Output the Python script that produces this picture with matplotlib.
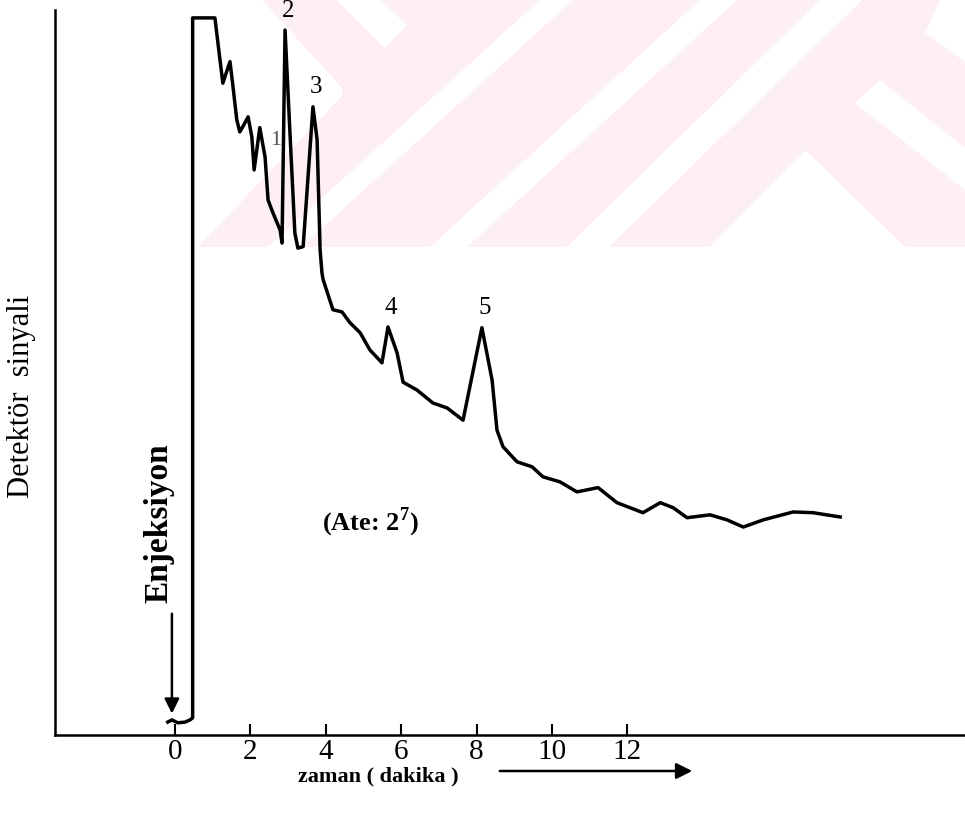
import matplotlib
matplotlib.use("Agg")
import matplotlib.pyplot as plt
from matplotlib.patches import Polygon

plt.rcParams['font.family'] = ['Liberation Serif', 'DejaVu Serif']
plt.rcParams['mathtext.fontset'] = 'custom'
plt.rcParams['mathtext.rm'] = 'Liberation Serif'
plt.rcParams['mathtext.bf'] = 'Liberation Serif:bold'

# chromatogram trace (time in minutes, detector signal in arbitrary units)
time_min = [-0.19, -0.08, 0.08, 0.27, 0.40, 0.47, 0.47, 1.06, 1.27, 1.46,
            1.54, 1.64, 1.72, 1.83, 1.94, 2.04, 2.10, 2.25, 2.39, 2.47,
            2.60, 2.79, 2.84, 2.92, 3.05, 3.18, 3.26, 3.40, 3.66, 3.77,
            3.85, 3.90, 3.93, 4.19, 4.43, 4.64, 4.91, 5.17, 5.49, 5.65,
            5.89, 6.05, 6.42, 6.84, 7.22, 7.64, 8.14, 8.41, 8.54, 8.70,
            9.07, 9.47, 9.76, 10.21, 10.66, 11.22, 11.72, 12.41, 12.87, 13.21,
            13.58, 14.19, 14.64, 15.07, 15.60, 16.39, 16.92, 17.64]
signal = [1.8, 2.1, 1.7, 1.8, 2.1, 2.4, 100.0, 100.0, 90.9, 93.9,
          90.4, 85.8, 84.1, 85.1, 86.2, 83.4, 78.8, 84.7, 80.6, 74.6,
          72.8, 70.4, 68.6, 98.3, 84.0, 70.0, 67.9, 68.1, 87.6, 83.0,
          67.6, 64.4, 63.5, 59.3, 59.0, 57.5, 56.1, 53.7, 51.9, 56.9,
          53.3, 49.2, 48.1, 46.3, 45.6, 43.9, 56.8, 49.5, 42.5, 40.2,
          38.1, 37.4, 36.0, 35.3, 33.9, 34.5, 32.4, 31.0, 32.4, 31.7,
          30.3, 30.7, 30.0, 29.0, 30.0, 31.1, 31.0, 30.4]

x_ticks = [0, 2, 4, 6, 8, 10, 12]

# numbered peaks: label, index of the peak point in the trace
peak_labels = ['2', '3', '4', '5']
peak_index = [23, 28, 39, 46]

fig = plt.figure(figsize=(9.65, 8.13), dpi=100)

# faint pink watermark from the scanned page, drawn in pixel space
bg = fig.add_axes([0, 0, 1, 1], zorder=0)
bg.set_xlim(0, 965)
bg.set_ylim(813, 0)
bg.axis('off')
pink = '#fdeff2'
bg.add_patch(Polygon([(195, 0), (965, 0), (965, 247), (195, 247)], color=pink, lw=0))
white_parts = [
    [(190, 0), (262, 0), (342, 88), (342, 96), (198, 247), (190, 247)],
    [(337, 0), (380, 0), (407, 25), (385, 48)],
    [(540, 0), (573, 0), (301, 247), (268, 247)],
    [(700, 0), (737, 0), (467, 247), (430, 247)],
    [(820, 0), (862, 0), (609, 247), (567, 247)],
    [(805, 150), (710, 247), (905, 247)],
    [(880, 80), (965, 148), (965, 190), (855, 103)],
    [(940, 0), (965, 0), (965, 62), (925, 33)],
]
for pts in white_parts:
    bg.add_patch(Polygon(pts, color='white', lw=0))

ax = fig.add_axes([55 / 965, 78 / 813, 910 / 965, 725 / 813], zorder=1)
ax.patch.set_alpha(0)
ax.plot(time_min, signal, color='black', lw=2.5, solid_joinstyle='round')
ax.set_xlim(-3.18, 20.95)
ax.set_ylim(0, 101.1)

for side in ['top', 'right']:
    ax.spines[side].set_visible(False)
for side in ['left', 'bottom']:
    ax.spines[side].set_linewidth(1.8)
ax.set_yticks([])
ax.set_xticks(x_ticks)
ax.set_xticklabels([str(t) for t in x_ticks], fontsize=21)
ax.tick_params(axis='x', direction='in', length=8, width=1.5, pad=3)

for lab, i in zip(peak_labels, peak_index):
    ax.annotate(lab, (time_min[i], signal[i]), xytext=(2, 6), textcoords='offset points',
                ha='center', va='bottom', fontsize=18)
ax.annotate('1', (time_min[21], signal[21]), xytext=(-3, 58), textcoords='offset points',
            ha='center', va='bottom', fontsize=16, color='#555555')

ax.text(5.17, 29.7, r'(Ate: 2$^{\mathbf{7}}$)', fontsize=19, fontweight='bold',
        ha='center', va='center')

# injection mark
ax.text(-0.42, 29.5, 'Enjeksiyon', rotation=90, fontsize=24, fontweight='bold',
        ha='center', va='center')
ax.annotate('', xy=(-0.08, 2.6), xytext=(-0.08, 17.3),
            arrowprops=dict(arrowstyle='-|>', lw=1.8, color='black', mutation_scale=22))

fig.text(22 / 965, 0.513, 'Detektör  sinyali', rotation=90, fontsize=22,
         ha='center', va='center')
fig.text(378 / 965, 0.045, 'zaman ( dakika )', fontsize=16, fontweight='bold',
         ha='center', va='center')
ax.annotate('', xy=(695, 42), xytext=(497, 42), xycoords='figure pixels',
            arrowprops=dict(arrowstyle='-|>', lw=1.8, color='black', mutation_scale=24))

fig.savefig('out.png', dpi=100)
